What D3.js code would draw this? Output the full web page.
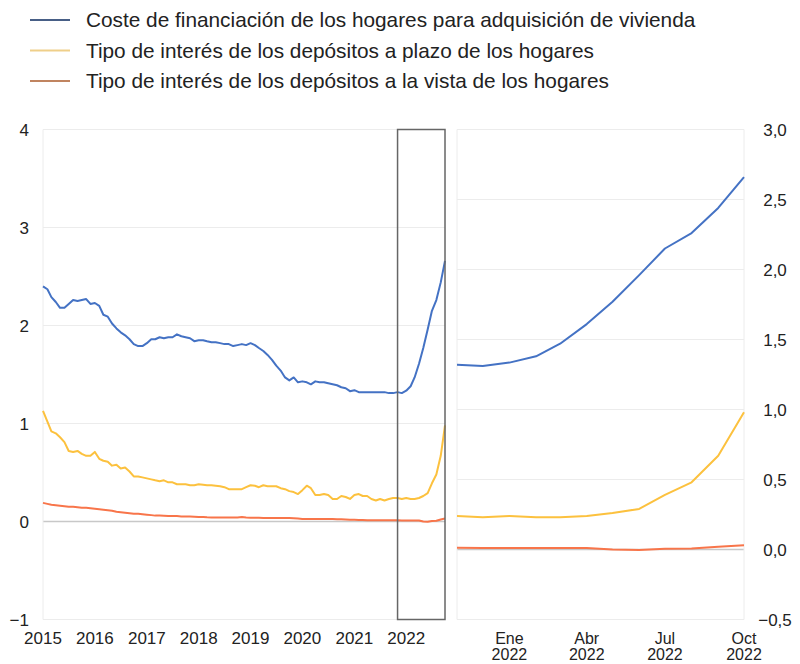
<!DOCTYPE html>
<html lang="es">
<head>
<meta charset="UTF-8">
<title>Coste de financiación y tipos de depósitos</title>
<style>
body {margin: 0; background: #fff;}
svg text {font-family: "Liberation Sans", Arial, sans-serif; fill: #222;}
</style>
</head>
<body>
<div id="chart"></div>
<script src="https://d3js.org/d3.v7.min.js"></script>
<script>

// series names (legend)
var seriesNames = [
  "Coste de financiación de los hogares para adquisición de vivienda",
  "Tipo de interés de los depósitos a plazo de los hogares",
  "Tipo de interés de los depósitos a la vista de los hogares"
];

// monthly values, Jan 2015 - Oct 2022
var coste = [
  2.40,2.37,2.29,2.24,2.18,2.18,2.22,2.26,2.25,2.26,2.27,2.22,
  2.23,2.20,2.11,2.09,2.02,1.97,1.93,1.90,1.86,1.81,1.79,1.79,
  1.82,1.86,1.86,1.88,1.87,1.88,1.88,1.91,1.89,1.88,1.87,1.84,
  1.85,1.85,1.84,1.83,1.83,1.82,1.81,1.81,1.79,1.80,1.81,1.80,
  1.82,1.80,1.77,1.74,1.70,1.65,1.59,1.54,1.47,1.44,1.47,1.42,
  1.43,1.42,1.40,1.43,1.42,1.42,1.41,1.40,1.39,1.37,1.36,1.33,
  1.34,1.32,1.32,1.32,1.32,1.32,1.32,1.32,1.31,1.31,1.32,1.31,
  1.335,1.38,1.47,1.61,1.77,1.96,2.15,2.26,2.44,2.66
];
var plazo = [
  1.13,1.02,0.92,0.90,0.86,0.81,0.72,0.71,0.72,0.69,0.67,0.67,
  0.71,0.64,0.62,0.61,0.57,0.58,0.54,0.55,0.51,0.46,0.46,0.45,
  0.44,0.43,0.42,0.41,0.42,0.40,0.40,0.38,0.38,0.38,0.37,0.37,
  0.38,0.375,0.37,0.37,0.365,0.36,0.35,0.33,0.33,0.33,0.33,0.35,
  0.37,0.365,0.35,0.37,0.36,0.36,0.36,0.34,0.33,0.31,0.30,0.28,
  0.32,0.365,0.34,0.27,0.27,0.28,0.27,0.23,0.23,0.26,0.25,0.23,
  0.27,0.28,0.26,0.26,0.23,0.215,0.23,0.215,0.23,0.24,0.24,0.23,
  0.24,0.23,0.23,0.24,0.26,0.29,0.39,0.48,0.67,0.98
];
var vista = [
  0.19,0.18,0.17,0.165,0.16,0.155,0.15,0.15,0.145,0.14,0.14,0.135,
  0.13,0.125,0.12,0.115,0.11,0.10,0.095,0.09,0.085,0.08,0.08,0.075,
  0.07,0.065,0.06,0.06,0.058,0.055,0.055,0.055,0.052,0.05,0.05,0.048,
  0.045,0.045,0.043,0.042,0.04,0.04,0.04,0.04,0.04,0.042,0.045,0.04,
  0.038,0.038,0.037,0.036,0.036,0.035,0.035,0.035,0.035,0.035,0.033,0.03,
  0.025,0.025,0.025,0.025,0.025,0.025,0.025,0.025,0.024,0.022,0.02,0.018,
  0.017,0.016,0.015,0.014,0.014,0.013,0.013,0.013,0.013,0.013,0.012,0.01,
  0.01,0.01,0.01,0.01,0.0,-0.003,0.005,0.007,0.02,0.03
];

var leftYTicks = [-1, 0, 1, 2, 3, 4];
var leftXTicks = [2015, 2016, 2017, 2018, 2019, 2020, 2021, 2022];
var rightYTicks = [-0.5, 0, 0.5, 1, 1.5, 2, 2.5, 3];
var rightXTicks = [["Ene", "2022", 1], ["Abr", "2022", 4], ["Jul", "2022", 7], ["Oct", "2022", 10]];

var colors = ["#4472c4", "#fcc13e", "#f8754a"];
var legendColors = ["#475f86", "#efcf8a", "#c08460"];

var months = coste.map(function(d, i) { return new Date(2015, i, 1); });
var series = [coste, plazo, vista].map(function(vals) {
  return vals.map(function(v, i) { return {date: months[i], value: v}; });
});
var zoomStart = new Date(2021, 10, 1);

var svg = d3.select("#chart").append("svg")
  .attr("width", 800).attr("height", 664);

// legend
var legend = svg.append("g");
seriesNames.forEach(function(name, i) {
  var y = 20 + i * 30.5;
  legend.append("line")
    .attr("x1", 30).attr("x2", 70).attr("y1", y).attr("y2", y)
    .attr("stroke", legendColors[i]).attr("stroke-width", 2);
  legend.append("text")
    .attr("x", 86).attr("y", y + 7)
    .attr("font-size", 20.8)
    .text(name);
});

var plotTop = 129.5, plotBottom = 619.5;

// ---- left panel
var xL = d3.scaleTime()
  .domain([new Date(2015, 0, 1), new Date(2022, 9, 1)])
  .range([43, 445]);
var yL = d3.scaleLinear().domain([-1, 4]).range([plotBottom, plotTop]);

var left = svg.append("g");
left.selectAll(".grid").data(leftYTicks).enter().append("line")
  .attr("x1", 43).attr("x2", 445)
  .attr("y1", function(d) { return yL(d); }).attr("y2", function(d) { return yL(d); })
  .attr("stroke", function(d) { return d === 0 ? "#c8c8c8" : "#ececec"; })
  .attr("stroke-width", function(d) { return d === 0 ? 1.5 : 1; });
left.append("line").attr("x1", 43).attr("x2", 43).attr("y1", plotTop).attr("y2", plotBottom)
  .attr("stroke", "#ececec");

left.selectAll(".ylab").data(leftYTicks).enter().append("text")
  .attr("x", 29).attr("y", function(d) { return yL(d) + 6; })
  .attr("text-anchor", "end").attr("font-size", 17)
  .text(function(d) { return d < 0 ? "\u2212" + Math.abs(d) : d; });

left.selectAll(".xlab").data(leftXTicks).enter().append("text")
  .attr("x", function(d) { return xL(new Date(d, 0, 1)); }).attr("y", 644)
  .attr("text-anchor", "middle").attr("font-size", 17)
  .text(function(d) { return d; });

var lineL = d3.line()
  .x(function(d) { return xL(d.date); })
  .y(function(d) { return yL(d.value); });
[2, 1, 0].forEach(function(i) {
  left.append("path").datum(series[i])
    .attr("fill", "none").attr("stroke", colors[i]).attr("stroke-width", 2)
    .attr("stroke-linejoin", "round")
    .attr("d", lineL);
});

// highlight box for the zoomed period
left.append("rect")
  .attr("x", xL(zoomStart)).attr("y", plotTop)
  .attr("width", xL(new Date(2022, 9, 1)) - xL(zoomStart))
  .attr("height", plotBottom - plotTop)
  .attr("fill", "none").attr("stroke", "#666").attr("stroke-width", 1.5);

// ---- right panel
var xR = d3.scaleTime()
  .domain([zoomStart, new Date(2022, 9, 1)])
  .range([457, 744]);
var yR = d3.scaleLinear().domain([-0.5, 3]).range([plotBottom, plotTop]);

var right = svg.append("g");
right.selectAll(".grid").data(rightYTicks).enter().append("line")
  .attr("x1", 457).attr("x2", 744)
  .attr("y1", function(d) { return yR(d); }).attr("y2", function(d) { return yR(d); })
  .attr("stroke", function(d) { return d === 0 ? "#c8c8c8" : "#ececec"; })
  .attr("stroke-width", function(d) { return d === 0 ? 1.5 : 1; });
right.append("line").attr("x1", 457).attr("x2", 457).attr("y1", plotTop).attr("y2", plotBottom).attr("stroke", "#ececec");
right.append("line").attr("x1", 744).attr("x2", 744).attr("y1", plotTop).attr("y2", plotBottom).attr("stroke", "#ececec");

var fmt = d3.format(".1f");
right.selectAll(".ylab").data(rightYTicks).enter().append("text")
  .attr("x", 775).attr("y", function(d) { return yR(d) + 6; })
  .attr("text-anchor", "middle").attr("font-size", 17)
  .text(function(d) { return fmt(d).replace(".", ",").replace("-", "\u2212"); });

// two-line month labels
var xlab = right.selectAll(".xlab").data(rightXTicks).enter().append("g");
xlab.append("text")
  .attr("x", function(d) { return xR(new Date(2022, d[2] - 1, 1)); }).attr("y", 644)
  .attr("text-anchor", "middle").attr("font-size", 16)
  .text(function(d) { return d[0]; });
xlab.append("text")
  .attr("x", function(d) { return xR(new Date(2022, d[2] - 1, 1)); }).attr("y", 660)
  .attr("text-anchor", "middle").attr("font-size", 16)
  .text(function(d) { return d[1]; });

var lineR = d3.line()
  .x(function(d) { return xR(d.date); })
  .y(function(d) { return yR(d.value); });
[2, 1, 0].forEach(function(i) {
  right.append("path").datum(series[i].filter(function(d) { return d.date >= zoomStart; }))
    .attr("fill", "none").attr("stroke", colors[i]).attr("stroke-width", 2)
    .attr("stroke-linejoin", "round")
    .attr("d", lineR);
});

</script>
</body>
</html>
